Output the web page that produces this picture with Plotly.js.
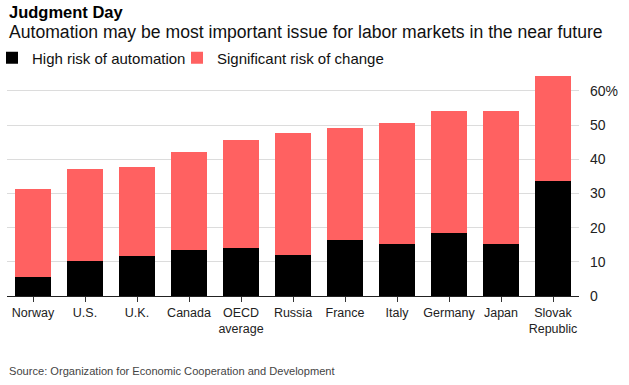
<!DOCTYPE html>
<html>
<head>
<meta charset="utf-8">
<script src="https://cdn.plot.ly/plotly-3.0.1.min.js"></script>
<style>html,body{margin:0;padding:0;background:#fff;}#chart{width:629px;height:385px;}</style>
</head>
<body>
<div id="chart"></div>
<script>
const categories = ["Norway", "U.S.", "U.K.", "Canada", "OECD<br>average", "Russia", "France", "Italy", "Germany", "Japan", "Slovak<br>Republic"];
const highRisk = [5.6, 10.2, 11.7, 13.5, 13.9, 11.9, 16.3, 15.2, 18.3, 15.2, 33.6];
const totalRisk = [31.3, 37.1, 37.7, 42.1, 45.6, 47.6, 49.1, 50.7, 54.1, 54.1, 64.3];
const significantChange = totalRisk.map((t, i) => +(t - highRisk[i]).toFixed(1));
const yTickVals = [0, 10, 20, 30, 40, 50, 60];
const yTickText = ["0", "10", "20", "30", "40", "50", "60%"];

const FONT = "Liberation Sans, Arial, sans-serif";
const y2p = px => (296 - px) / 224;
const x2p = px => (px - 7) / 572;

const traces = [
  {type: "bar", name: "High risk of automation", x: categories, y: highRisk,
   marker: {color: "#000000"}, hoverinfo: "skip", legend: "legend"},
  {type: "bar", name: "Significant risk of change", x: categories, y: significantChange,
   marker: {color: "#ff6161"}, hoverinfo: "skip", legend: "legend2"}
];

const legendBase = {orientation: "h", xanchor: "left", y: y2p(58), yanchor: "middle",
  font: {size: 15, color: "#111"}, itemclick: false, itemwidth: 30, bgcolor: "rgba(0,0,0,0)"};

const layout = {
  width: 629, height: 385,
  margin: {l: 7, r: 50, t: 72, b: 89, autoexpand: false},
  barmode: "stack", bargap: 0.31,
  paper_bgcolor: "#fff", plot_bgcolor: "#fff",
  font: {family: FONT, color: "#222", size: 13},
  showlegend: true,
  legend: Object.assign({}, legendBase, {x: x2p(-8)}),
  legend2: Object.assign({}, legendBase, {x: x2p(177)}),
  xaxis: {type: "category", automargin: false, tickfont: {size: 12.5, color: "#222"}, ticks: "outside", ticklen: 5,
          tickcolor: "#333", showline: true, linecolor: "#222", linewidth: 1, showgrid: false, fixedrange: true},
  yaxis: {side: "right", automargin: false, range: [0, 65.5], tickvals: yTickVals, ticktext: yTickText,
          tickfont: {size: 14, color: "#222"}, showgrid: true, gridcolor: "#dcdcdc", gridwidth: 1,
          zeroline: false, ticks: "", ticklabelstandoff: 10, fixedrange: true},
  annotations: [
    {xref: "paper", yref: "paper", x: 0, y: y2p(12), xanchor: "left", yanchor: "middle",
     text: "<b>Judgment Day</b>", showarrow: false, font: {size: 16.5, color: "#000"}},
    {xref: "paper", yref: "paper", x: 0, y: y2p(32), xanchor: "left", yanchor: "middle",
     text: "Automation may be most important issue for labor markets in the near future", showarrow: false,
     font: {size: 17.6, color: "#111"}},
    {xref: "paper", yref: "paper", x: 0, y: y2p(371), xanchor: "left", yanchor: "middle",
     text: "Source: Organization for Economic Cooperation and Development", showarrow: false,
     font: {size: 11.1, color: "#444"}}
  ]
};

Plotly.newPlot("chart", traces, layout, {displayModeBar: false, staticPlot: true});
</script>
</body>
</html>
